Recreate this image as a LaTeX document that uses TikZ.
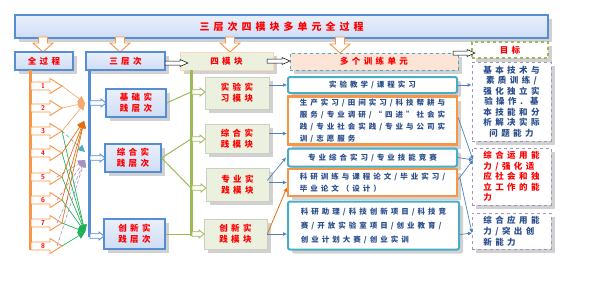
\documentclass[tikz,border=0pt]{standalone}
\usepackage{fontspec}
\newfontfamily\cjk[LetterSpace=40]{Noto Sans CJK SC}
\usetikzlibrary{shadows,arrows.meta,calc}
\definecolor{tblue}{HTML}{558ED5}
\definecolor{bfill}{HTML}{CFDDF5}
\definecolor{org}{HTML}{F79646}
\definecolor{orgl}{HTML}{F9A76A}
\definecolor{orgd}{HTML}{E46C0A}
\definecolor{grn}{HTML}{9BBB59}
\definecolor{grnd}{HTML}{1FAF55}
\definecolor{tealc}{HTML}{4BACC6}
\definecolor{purp}{HTML}{8064A2}
\definecolor{modf}{HTML}{EBF1DE}
\definecolor{peach}{HTML}{FCE4D6}
\definecolor{txtb}{HTML}{2B4F8C}
\definecolor{lblue}{HTML}{4F81BD}
\definecolor{redt}{HTML}{FF0000}
\newcommand\hbarrow[7]{\draw[#1] (#2,{#4-#5}) -- ({#3-#7},{#4-#5}) -- ({#3-#7},{#4-#6}) -- (#3,#4) -- ({#3-#7},{#4+#6}) -- ({#3-#7},{#4+#5}) -- (#2,{#4+#5}) -- cycle;}
\newcommand\vbarrow[7]{\draw[#1] ({#2-#5},#3) -- ({#2-#5},{#4-#7}) -- ({#2-#6},{#4-#7}) -- (#2,#4) -- ({#2+#6},{#4-#7}) -- ({#2+#5},{#4-#7}) -- ({#2+#5},#3) -- cycle;}
\begin{document}
\begin{tikzpicture}[x=1pt,y=-1pt,
  shad/.style={drop shadow={shadow xshift=4pt,shadow yshift=-4pt,opacity=0.3,fill=black!60}},
  bluebox/.style={draw=tblue,line width=1.2pt,top color=white!55!bfill,bottom color=bfill,inner sep=0pt,shad},
  modbox/.style={draw=modf!70!gray,line width=0.6pt,fill=modf,inner sep=0pt,shad},
  tealbox/.style={draw=tealc,line width=2pt,rounded corners=2pt,fill=white,inner sep=0pt,shad},
  orgbox/.style={draw=org,line width=2.2pt,fill=white,inner sep=0pt,shad},
  tgtbox/.style={draw=purp!70,line width=1pt,dashed,fill=white,inner sep=0pt,shad},
  redtxt/.style={text=redt,font=\cjk\bfseries\fontsize{8.5}{11}\selectfont,align=center},
  unittxt/.style={text=txtb,font=\cjk\bfseries\fontsize{7.5}{12}\selectfont,align=left},
  downarr/.style={draw=org,fill=white,line width=0.9pt},
  numarr/.style={draw=org,fill=white,line width=0.9pt},
  hdarr/.style={draw=black,fill=white,line width=0.5pt},
  bluearr/.style={draw=tblue,fill=white,line width=0.8pt},
  grnarr/.style={draw=grn,fill=white,line width=0.8pt},
  conn/.style={draw=lblue,line width=0.7pt,-{Latex[length=4pt,width=4pt]}},
  fan/.style={line width=0.6pt,-{Triangle[length=7pt,width=7pt]}},
  gline/.style={draw=grn,line width=1pt}]
\useasboundingbox (0,0) rectangle (591,295);

% title
\node[bluebox,minimum width=533pt,minimum height=23pt] (title) at (281.5,26.5)
  {\textcolor{redt}{\cjk\bfseries\fontsize{10}{12}\selectfont 三层次四模块多单元全过程}};

% down arrows
\vbarrow{downarr}{43}{37}{52}{4.5}{10}{9}
\vbarrow{downarr}{120}{37}{52}{4.5}{10}{9}
\vbarrow{downarr}{230}{37}{52}{4.5}{10}{9}
\vbarrow{downarr}{340}{37}{53}{4.5}{10}{9}

% headers
\node[bluebox,minimum width=58pt,minimum height=18pt,redtxt] (h1) at (44,61) {全过程};
\node[bluebox,minimum width=79pt,minimum height=18pt,redtxt] (h2) at (125.5,61) {三层次};
\node[draw=org!40,line width=1pt,fill=modf,minimum width=93pt,minimum height=18pt,redtxt,shad] (h3) at (226.5,61) {四模块};
\node[draw=tealc,dashed,line width=1pt,fill=peach,minimum width=168pt,minimum height=17pt,redtxt,shad] (h4) at (374,61.5) {多个训练单元};
\node[draw=grn,dashed,line width=1.2pt,fill=white,minimum width=76pt,minimum height=16pt,redtxt,shad] (h5) at (510,50) {目标};

\hbarrow{hdarr}{165}{188}{63}{2}{3.5}{8}
\hbarrow{hdarr}{267}{290}{61}{2}{3.5}{8}
\hbarrow{hdarr}{453}{475}{53}{2}{3.5}{8}

% vertical bars
\draw[org,line width=3pt] (30,70) -- (30,250);
\draw[tblue,line width=3pt] (89,70) -- (89,237);
\draw[grn,line width=3pt] (191,70) -- (191,236);

% numbered arrows
\foreach \i/\yy in {1/86,2/108,3/131,4/153,5/177,6/200,7/223,8/246}{
  \hbarrow{numarr}{31}{62}{\yy}{4}{7.5}{12}
  \node[text=redt,font=\sffamily\bfseries\fontsize{7}{7}\selectfont] (n\i) at (43,\yy) {\i};
  \coordinate (t\i) at (62,\yy);
}
\coordinate (p1) at (85,103);
\coordinate (p2) at (84,121);
\coordinate (p3) at (85,152);
\coordinate (p4) at (85,160);
\coordinate (p5) at (85,232);

\foreach \i in {3,4,5,6,7,8} \draw[fan,draw=grnd,fill=grnd] (t\i) -- (p5);
\foreach \i in {5,6,7,8} \draw[fan,draw=purp!70,fill=purp!70,dashed] ($(t\i)+(-5,0)$) -- (p4);
\draw[fan,draw=tealc,fill=tealc,dashed] (t3) -- (p3);
\foreach \i in {4,5,6,7} \draw[fan,draw=orgd,fill=orgd] (t\i) -- (p2);
\foreach \i in {1,2,3} \draw[fan,draw=orgl,fill=orgl] (t\i) -- (p1);

% level boxes
\node[bluebox,minimum width=60pt,minimum height=28pt,redtxt] (L1) at (136,103) {基础实\\践层次};
\node[bluebox,minimum width=56pt,minimum height=28pt,redtxt] (L2) at (133,158) {综合实\\践层次};
\node[bluebox,minimum width=61pt,minimum height=30pt,redtxt] (L3) at (134.5,234) {创新实\\践层次};
\hbarrow{bluearr}{90}{106}{103}{2.3}{4}{5}
\hbarrow{bluearr}{90}{105}{158}{2.3}{4}{5}
\hbarrow{bluearr}{90}{104}{236}{2.3}{4}{5}

% green connectors
\coordinate (g1) at (191,92);
\coordinate (g2) at (191,139);
\coordinate (g3) at (191,188);
\coordinate (g4) at (191,234);
\draw[gline] (L1.east) -- (g1);
\draw[gline] (L2.east) -- (g2);
\draw[gline] (L2.east) -- (g3);
\draw[gline] (L3.east) -- (g4);

% module boxes
\node[modbox,minimum width=64pt,minimum height=32pt,redtxt] (M1) at (237,93) {实验实\\习模块};
\node[modbox,minimum width=64pt,minimum height=29pt,redtxt] (M2) at (237,138.5) {综合实\\践模块};
\node[modbox,minimum width=63pt,minimum height=33pt,redtxt] (M3) at (237.5,184.5) {专业实\\践模块};
\node[modbox,minimum width=63pt,minimum height=30pt,redtxt] (M4) at (235.5,234) {创新实\\践模块};
\hbarrow{grnarr}{192}{205}{92}{2.3}{4}{5}
\hbarrow{grnarr}{192}{205}{139}{2.3}{4}{5}
\hbarrow{grnarr}{192}{206}{188}{2.3}{4}{5}
\hbarrow{grnarr}{192}{204}{234}{2.3}{4}{5}

% units
\node[tealbox,minimum width=169pt,minimum height=16pt,unittxt] (U1) at (372.5,85) {实验教学/课程实习};
\node[orgbox,minimum width=169pt,minimum height=48pt,unittxt] (U2) at (372.5,120.5) {生产实习/田间实习/科技帮耕与\\服务/专业调研/“四进”社会实\\践/专业社会实践/专业与公司实\\训/志愿服务};
\node[tealbox,minimum width=169pt,minimum height=18pt,unittxt] (U3) at (372.5,157.5) {专业综合实习/专业技能竞赛};
\node[orgbox,minimum width=169pt,minimum height=27pt,unittxt] (U4) at (372.5,182.5) {科研训练与课程论文/毕业实习/\\毕业论文（设计）};
\node[tealbox,minimum width=171pt,minimum height=48pt,unittxt,font=\cjk\bfseries\fontsize{7.5}{14}\selectfont] (U5) at (373.5,225.5) {科研助理/科技创新项目/科技竞\\赛/开放实验室项目/创业教育/\\创业计划大赛/创业实训};

% module -> unit
\draw[conn] (M1.east |- U1.west) -- (U1.west);
\draw[conn] ($(M2.east)+(0,-5)$) -- ($(U2.west)+(0,13)$);
\draw[conn] ($(M3.east)+(-2,-4)$) -- ($(U3.west)+(-1,0)$);
\draw[conn] ($(M3.east)+(0,-2)$) -- ($(U4.west)+(0,0)$);
\draw[draw=orgd,line width=0.8pt,-{Latex[length=4pt,width=4pt]}] (M4.east) -- ($(U4.west)+(0,5)$);
\draw[conn] (M4.east) -- (U5.west |- M4.east);

% targets
\node[tgtbox,minimum width=79pt,minimum height=79pt,unittxt,align=center,font=\cjk\bfseries\fontsize{8.5}{10.5}\selectfont] (T1) at (511.5,101.5) {基本技术与\\素质训练/\\强化独立实\\验操作. 基\\本技能和分\\析解决实际\\问题能力};
\node[tgtbox,minimum width=79pt,minimum height=57pt,redtxt,align=left,font=\cjk\bfseries\fontsize{8.5}{10.5}\selectfont] (T2) at (511.5,176.5) {综合运用能\\力/强化适\\应社会和独\\立工作的能\\力};
\node[tgtbox,minimum width=79pt,minimum height=36pt,unittxt,font=\cjk\bfseries\fontsize{8.5}{11}\selectfont] (T3) at (511.5,231) {综合应用能\\力/突出创\\新能力};

% unit -> target
\coordinate (q2) at (473,160);
\coordinate (q3) at (472,233);
\draw[conn] (U1.east) -- (T1.west |- U1.east);
\draw[conn] ($(U2.east)+(0,-3)$) -- (q2);
\draw[conn] (U3.east) -- (q2);
\draw[conn] ($(U4.east)+(0,-3)$) -- (q2);
\draw[conn] ($(U4.east)+(2,-4)$) -- (q3);
\draw[conn] ($(U5.east)+(0,9)$) -- (q3);
\end{tikzpicture}
\end{document}
